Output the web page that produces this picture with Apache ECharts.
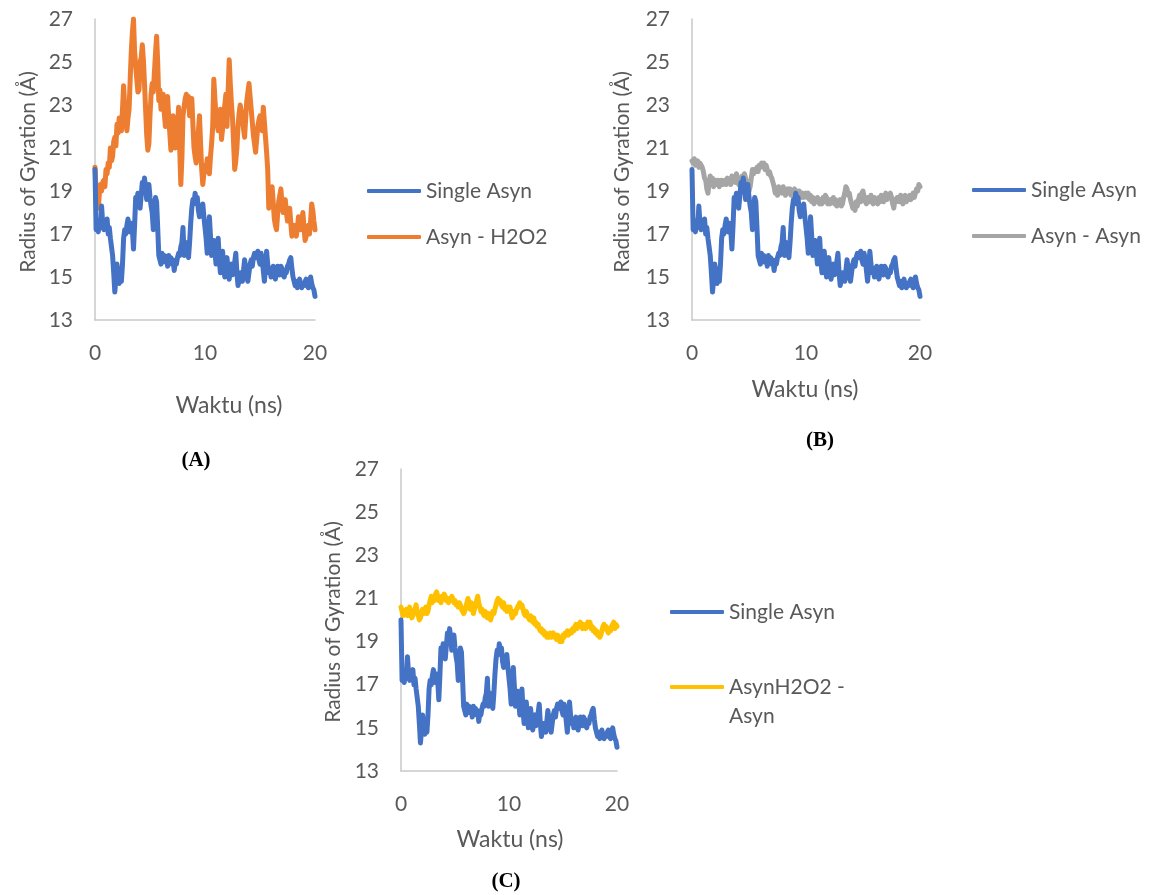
<!DOCTYPE html>
<html>
<head>
<meta charset="utf-8">
<script src="https://cdn.jsdelivr.net/npm/echarts@6/dist/echarts.min.js"></script>
<style>
  html, body { margin: 0; padding: 0; background: #fff; }
  #main { width: 1151px; height: 895px; }
</style>
</head>
<body>
<div id="main"></div>
<script>
// waktu (ns): satu titik tiap 0.1 ns, 0 .. 20
const langkah = 0.1;
const xTicks = [0, 10, 20];
const yTicks = [13, 27, 2]; // min, max, interval

// Single Asyn (sama di ketiga panel)
const singleAsyn = [
  20.0,17.2,17.4,17.1,17.6,17.3,18.3,17.5,17.2,17.6,
  17.4,17.7,17.0,17.3,16.8,16.4,16.0,15.2,14.3,14.9,
  15.6,15.0,14.7,15.4,14.8,15.6,16.8,17.2,17.0,17.4,
  17.7,17.3,17.1,17.5,17.2,16.3,17.4,18.7,18.5,18.9,
  18.4,18.2,18.8,19.4,19.1,19.6,19.2,18.6,18.9,19.3,
  18.7,18.3,18.0,17.2,18.2,18.7,18.5,17.3,16.0,15.8,
  15.6,16.1,15.7,16.0,15.7,15.9,15.5,16.0,15.7,15.9,
  15.6,15.8,15.3,15.7,15.6,15.9,16.1,16.0,16.4,16.6,
  17.3,16.0,16.3,16.6,16.2,15.9,16.6,17.5,18.2,18.6,
  18.4,18.9,18.5,18.7,18.1,17.8,18.3,18.0,18.4,17.8,
  17.3,16.8,16.1,16.6,17.8,16.9,16.0,16.5,16.7,16.2,
  15.6,16.3,16.8,15.8,15.2,15.9,16.2,15.4,15.0,15.6,
  15.9,15.3,14.9,15.4,15.6,15.1,15.2,15.7,16.1,15.2,
  14.6,14.9,15.2,15.0,14.8,15.3,15.8,15.4,15.0,14.8,
  15.2,15.6,15.8,15.5,15.9,16.1,15.9,16.0,16.2,15.8,
  15.6,16.1,15.8,15.3,14.8,15.4,16.2,15.6,15.2,15.4,
  15.0,15.3,15.5,15.2,14.9,15.2,15.5,15.3,15.1,15.5,
  15.4,15.1,15.0,15.3,15.2,15.5,15.6,15.8,15.9,15.4,
  15.0,14.8,14.6,14.8,14.5,14.7,14.9,14.6,14.5,14.7,
  14.6,14.8,14.9,14.6,14.5,14.8,15.0,14.7,14.5,14.4,
  14.1
];

// (A) Asyn - H2O2
const asynH2O2 = [
  20.1,19.0,18.5,18.2,18.9,19.3,19.0,19.4,19.5,19.2,
  20.0,19.8,20.3,20.1,21.0,20.4,20.6,21.3,21.5,21.1,
  22.1,21.7,22.4,22.0,21.8,22.8,23.9,22.9,22.2,21.8,
  22.4,22.8,24.2,25.5,26.4,27.0,25.5,24.8,24.2,23.6,
  23.7,25.0,25.2,25.8,25.1,24.0,22.8,21.6,20.9,21.2,
  22.5,23.5,24.0,23.6,24.5,25.4,26.2,25.0,23.2,23.7,
  22.8,23.1,23.5,22.6,22.0,22.8,23.4,22.4,21.7,20.9,
  21.6,22.5,21.8,21.0,21.4,22.0,22.9,21.0,19.3,20.5,
  22.5,22.9,23.3,23.5,23.1,23.4,22.5,22.9,23.3,22.1,
  21.0,20.6,20.3,21.0,21.8,22.5,21.2,20.0,19.3,19.8,
  20.2,19.9,20.5,20.1,19.8,20.6,21.2,22.0,24.2,23.3,
  22.5,22.1,21.8,22.4,22.8,21.4,21.9,22.5,23.0,23.5,
  22.0,23.6,25.1,24.0,23.1,22.4,21.2,20.0,20.4,21.0,
  22.0,22.6,23.0,22.7,22.4,21.9,21.5,22.4,23.2,23.6,
  24.0,23.4,22.8,22.2,21.6,21.2,20.8,21.4,22.0,22.3,
  22.5,22.1,21.8,22.9,22.2,21.5,20.8,20.0,18.2,18.4,
  18.6,19.2,18.5,17.7,17.4,17.2,17.9,18.5,18.8,19.1,
  18.4,18.0,18.3,18.6,18.0,17.6,17.9,18.2,17.5,16.9,
  17.2,17.4,17.1,16.9,17.3,17.8,17.5,17.2,17.6,18.0,
  17.3,16.7,16.9,17.2,17.4,17.0,17.6,18.4,18.1,17.6,
  17.2
];

// (B) Asyn - Asyn
const asynAsyn = [
  20.4,20.3,20.5,20.2,20.3,20.4,20.1,20.3,20.2,20.1,
  19.9,19.6,19.5,19.1,18.9,19.4,19.7,19.3,19.6,19.2,
  19.4,19.5,19.3,19.5,19.2,19.4,19.5,19.3,19.4,19.5,
  19.3,19.6,19.4,19.5,19.3,19.7,19.5,19.6,19.4,19.8,
  19.5,19.3,19.6,19.4,19.7,19.5,19.8,19.6,19.4,19.1,
  19.0,19.2,19.6,20.0,19.8,20.0,19.9,20.1,19.9,20.2,
  20.1,20.3,20.2,20.3,20.0,20.2,20.0,19.8,19.9,19.7,
  19.6,19.4,19.2,18.9,19.0,18.8,19.2,19.0,19.1,18.9,
  19.2,19.0,18.8,18.9,19.1,18.9,19.1,18.8,19.0,18.9,
  19.1,18.9,19.0,18.8,19.0,18.9,18.7,18.9,18.7,18.8,
  18.9,18.7,18.9,18.6,18.8,18.5,18.7,18.4,18.6,18.5,
  18.7,18.6,18.4,18.6,18.4,18.7,18.5,18.8,18.7,18.4,
  18.6,18.4,18.6,18.5,18.7,18.4,18.6,18.3,18.5,18.4,
  18.6,18.3,18.4,18.7,18.9,19.2,19.1,18.8,18.9,18.6,
  18.4,18.2,18.3,18.1,18.5,18.3,18.6,18.8,18.5,18.9,
  19.0,18.7,18.5,18.4,18.7,18.6,18.5,18.8,18.6,18.4,
  18.7,18.5,18.6,18.4,18.7,18.5,18.8,18.6,18.5,18.7,
  18.9,18.6,18.8,18.7,18.9,18.7,18.4,18.2,18.6,18.5,
  18.7,18.6,18.5,18.8,18.6,18.4,18.6,18.8,18.5,18.7,
  18.6,18.8,18.6,18.7,18.9,18.7,18.9,19.1,19.0,19.3,
  19.2
];

// (C) AsynH2O2 - Asyn
const asynH2O2Asyn = [
  20.6,20.4,20.2,20.4,20.3,20.5,20.2,20.4,20.6,20.3,
  20.1,20.2,20.4,20.5,20.7,20.4,20.2,20.0,20.1,20.3,
  20.5,20.3,20.4,20.6,20.3,20.4,20.7,20.9,21.1,20.8,
  21.0,20.9,21.2,21.3,21.1,20.9,21.0,20.8,21.1,21.0,
  21.2,21.1,20.9,21.0,20.8,21.0,20.9,21.1,21.0,20.8,
  20.9,20.7,20.8,20.6,20.8,20.7,20.5,20.4,20.3,20.4,
  20.6,20.8,21.0,20.7,20.5,20.8,20.6,20.3,20.5,20.7,
  20.9,21.1,20.8,20.6,20.4,20.5,20.3,20.2,20.4,20.2,
  20.1,20.3,20.1,20.0,20.2,20.4,20.3,20.5,20.7,20.9,
  21.0,20.8,20.9,20.7,20.6,20.8,20.5,20.6,20.4,20.6,
  20.5,20.6,20.3,20.1,20.2,20.4,20.3,20.5,20.6,20.7,
  20.8,20.6,20.7,20.5,20.3,20.2,20.4,20.2,20.1,20.0,
  20.2,20.0,19.9,20.1,19.8,19.9,19.7,19.8,19.6,19.5,
  19.6,19.4,19.5,19.3,19.4,19.2,19.3,19.2,19.4,19.2,
  19.3,19.4,19.2,19.3,19.1,19.3,19.2,19.0,19.2,19.0,
  19.3,19.2,19.4,19.3,19.5,19.3,19.4,19.5,19.4,19.6,
  19.5,19.7,19.8,19.6,19.8,19.7,19.9,19.8,19.6,19.8,
  19.7,19.6,19.8,19.9,19.7,19.9,19.6,19.7,19.5,19.6,
  19.4,19.5,19.3,19.4,19.2,19.3,19.5,19.7,19.8,19.6,
  19.7,19.5,19.4,19.6,19.5,19.7,19.8,19.9,19.6,19.8,
  19.7
];

const warna = {
  single: '#4472C4',
  h2o2: '#ED7D31',
  asyn: '#A5A5A5',
  kuning: '#FFC000'
};
const teks = '#595959';
const garisSumbu = '#C9C9C9';

const chart = echarts.init(document.getElementById('main'));

// pasangkan nilai y dengan waktu
function toPairs(ys) {
  return ys.map((y, i) => [+(i * langkah).toFixed(1), y]);
}

function xAxisFor(gridIndex) {
  return {
    type: 'value', gridIndex,
    min: xTicks[0], max: xTicks[2], interval: xTicks[1] - xTicks[0],
    axisLine: { show: true, lineStyle: { color: garisSumbu, width: 1.5 } },
    axisTick: { show: false },
    splitLine: { show: false },
    axisLabel: { color: teks, fontSize: 21, fontFamily: 'Lato', margin: 23 }
  };
}
function yAxisFor(gridIndex) {
  return {
    type: 'value', gridIndex,
    min: yTicks[0], max: yTicks[1], interval: yTicks[2],
    axisLine: { show: true, lineStyle: { color: garisSumbu, width: 1.5 } },
    axisTick: { show: false },
    splitLine: { show: false },
    axisLabel: { color: teks, fontSize: 21, fontFamily: 'Lato', margin: 22 }
  };
}
function lineSeries(name, data, color, idx) {
  return {
    name, type: 'line', xAxisIndex: idx, yAxisIndex: idx,
    data: toPairs(data),
    showSymbol: false, symbol: 'none',
    lineStyle: { color, width: 5, join: 'round', cap: 'round' },
    itemStyle: { color },
    animation: false
  };
}
function legendFor(names, left, top, gap, fmt) {
  return {
    orient: 'vertical', left, top, padding: 0,
    data: names, itemGap: gap,
    icon: 'roundRect', itemWidth: 54, itemHeight: 4,
    selectedMode: false,
    formatter: fmt || '{name}',
    textStyle: { color: teks, fontSize: 21, fontFamily: 'Lato', lineHeight: 24 }
  };
}
function label(text, x, y, opts) {
  opts = opts || {};
  return {
    type: 'text', x, y, rotation: opts.rot || 0,
    style: {
      text, fill: opts.fill || teks,
      font: opts.font || '23px Lato',
      align: opts.align || 'center', verticalAlign: 'middle'
    }
  };
}

const option = {
  backgroundColor: '#fff',
  animation: false,
  textStyle: { fontFamily: 'Lato' },
  grid: [
    { left: 95, top: 19, width: 220, height: 301, outerBoundsMode: 'none' },
    { left: 692, top: 19, width: 228, height: 301, outerBoundsMode: 'none' },
    { left: 401, top: 469, width: 216, height: 302, outerBoundsMode: 'none' }
  ],
  xAxis: [xAxisFor(0), xAxisFor(1), xAxisFor(2)],
  yAxis: [yAxisFor(0), yAxisFor(1), yAxisFor(2)],
  legend: [
    legendFor(['Single Asyn', 'Asyn - H2O2'], 367, 179, 22),
    legendFor(['Single Asyn', 'Asyn - Asyn'], 972, 178, 22),
    legendFor(['Single Asyn', 'AsynH2O2 - Asyn'], 670, 600, 51,
      name => name === 'AsynH2O2 - Asyn' ? 'AsynH2O2 -' : name)
  ],
  series: [
    lineSeries('Asyn - H2O2', asynH2O2, warna.h2o2, 0),
    lineSeries('Single Asyn', singleAsyn, warna.single, 0),
    lineSeries('Asyn - Asyn', asynAsyn, warna.asyn, 1),
    lineSeries('Single Asyn', singleAsyn, warna.single, 1),
    lineSeries('AsynH2O2 - Asyn', asynH2O2Asyn, warna.kuning, 2),
    lineSeries('Single Asyn', singleAsyn, warna.single, 2)
  ],
  graphic: [
    label('Radius of Gyration (Å)', 28, 172, { rot: Math.PI / 2, font: '21px Lato' }),
    label('Radius of Gyration (Å)', 622, 172, { rot: Math.PI / 2, font: '21px Lato' }),
    label('Radius of Gyration (Å)', 333, 622, { rot: Math.PI / 2, font: '21px Lato' }),
    label('Waktu (ns)', 229, 406),
    label('Waktu (ns)', 805, 390),
    label('Waktu (ns)', 510, 840),
    label('Asyn', 729, 716, { align: 'left', font: '21px Lato' }),
    label('(A)', 196, 461, { font: 'bold 21px "Liberation Serif"', fill: '#000' }),
    label('(B)', 820, 441, { font: 'bold 21px "Liberation Serif"', fill: '#000' }),
    label('(C)', 506, 882, { font: 'bold 21px "Liberation Serif"', fill: '#000' })
  ]
};

chart.setOption(option);
</script>
</body>
</html>
